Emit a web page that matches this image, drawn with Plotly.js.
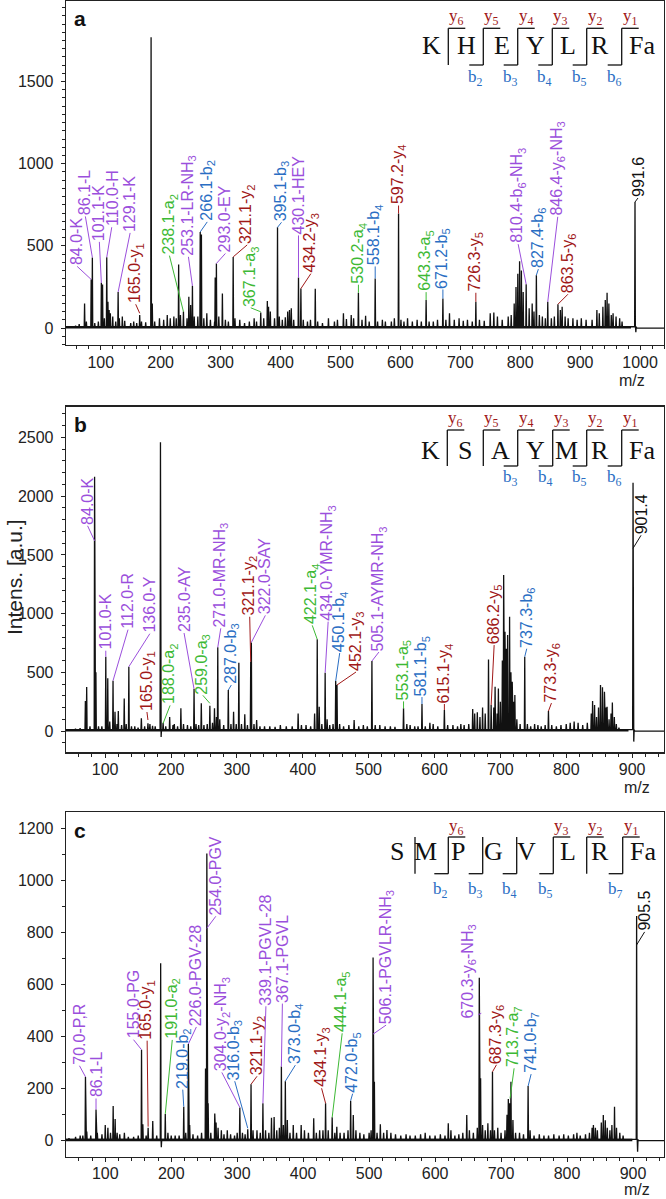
<!DOCTYPE html>
<html><head><meta charset="utf-8">
<script src="https://cdn.plot.ly/plotly-3.0.1.min.js"></script>
<style>html,body{margin:0;padding:0;background:#fff}#chart{width:666px;height:1199px}</style>
</head><body><div id="chart"></div>
<script>
// ---------------- DATA ----------------
// Panel a: KHEYLRFa  (peaks: [m/z, intensity])
const peaksA = [[58,15],[64,25],[73,150],[76,40],[84,296],[86,430],[90,30],[96,40],[101,275],[103,265],[106,60],[110,431],[112,160],[114,110],[116,90],[120,70],[125,40],[129,220],[131,60],[136,70],[140,45],[150,30],[155,40],[160,30],[165,80],[168,40],[175,35],[184,1770],[186,150],[190,40],[198,60],[205,50],[211,80],[216,60],[222,70],[226,60],[230,387],[233,80],[238,100],[244,60],[247,190],[250,140],[253,257],[256,70],[262,70],[266,585],[268,570],[272,60],[277,90],[283,50],[290,40],[291,308],[293,393],[297,70],[303,210],[308,50],[313,40],[321,433],[324,60],[332,50],[340,30],[348,40],[356,60],[360,40],[367,95],[372,60],[378,165],[380,130],[383,100],[390,60],[395,613],[398,70],[403,50],[408,65],[412,100],[415,110],[418,120],[422,50],[430,308],[434,240],[438,50],[445,40],[450,50],[458,239],[462,40],[470,30],[480,60],[490,40],[495,50],[505,90],[510,55],[518,80],[522,60],[530,215],[536,50],[542,75],[548,40],[558,302],[562,40],[570,50],[575,40],[585,40],[590,60],[597,697],[601,50],[606,40],[612,60],[620,40],[628,50],[635,40],[643,170],[648,40],[655,40],[662,50],[671,180],[676,50],[682,90],[690,50],[698,60],[705,45],[712,50],[720,40],[726,160],[732,50],[740,45],[750,90],[756,95],[762,70],[770,50],[780,70],[785,80],[790,150],[793,250],[796,330],[799,407],[802,350],[805,220],[810,267],[815,120],[820,150],[823,100],[827,322],[832,80],[837,70],[842,60],[846,160],[852,60],[857,70],[863,145],[867,110],[870,130],[875,70],[880,60],[888,60],[895,50],[902,60],[910,50],[920,50],[928,110],[932,90],[938,130],[942,170],[945,215],[948,150],[952,80],[955,90],[960,70],[966,60],[970,40],[991.6,767],[993,-25]];
// labels: [m/z, intensity at leader end, text, ion type]
const labelsA = [[84,296,"84.0-K","p"],[86,430,"86.1-L","p"],[101,275,"101.1-K","p"],[110,431,"110.0-H","p"],[129,220,"129.1-K","p"],[165,90,"165.0-y<sub>1</sub>","r"],[238,100,"238.1-a<sub>2</sub>","g"],[253,257,"253.1-LR-NH<sub>3</sub>","p"],[266,585,"266.1-b<sub>2</sub>","b"],[293,393,"293.0-EY","p"],[321,433,"321.1-y<sub>2</sub>","r"],[367,99,"367.1-a<sub>3</sub>","g"],[395,613,"395.1-b<sub>3</sub>","b"],[430,308,"430.1-HEY","p"],[434,240,"434.2-y<sub>3</sub>","r"],[530,215,"530.2-a<sub>4</sub>","g"],[558,302,"558.1-b<sub>4</sub>","b"],[597,697,"597.2-y<sub>4</sub>","r"],[643,170,"643.3-a<sub>5</sub>","g"],[671,180,"671.2-b<sub>5</sub>","b"],[726,160,"726.3-y<sub>5</sub>","r"],[810,267,"810.4-b<sub>6</sub>-NH<sub>3</sub>","p"],[827,322,"827.4-b<sub>6</sub>","b"],[846,160,"846.4-y<sub>6</sub>-NH<sub>3</sub>","p"],[863,145,"863.5-y<sub>6</sub>","r"],[991.6,767,"991.6","k"]];
const seqResA = ["K","H","E","Y","L","R","Fa"];
const seqYA = ["y6","y5","y4","y3","y2","y1"];
const seqBA = ["","b2","b3","b4","b5","b6"];

// Panel b: KSAYMRFa
const peaksB = [[55,20],[62,25],[70,256],[72,375],[77,40],[84,2166],[86,500],[90,40],[95,40],[101,633],[104,449],[107,80],[112,429],[115,165],[118,60],[120,170],[125,50],[129,278],[132,60],[136,548],[140,40],[145,40],[150,30],[155,108],[160,40],[165,65],[168,60],[172,45],[176,40],[184,2459],[185,-50],[188,70],[192,40],[198,120],[203,50],[205,60],[210,40],[215,193],[219,60],[225,50],[230,40],[235,358],[238,60],[242,50],[246,236],[250,50],[255,60],[259,216],[263,70],[266,193],[269,120],[271,713],[274,100],[280,50],[287,349],[291,60],[295,165],[299,60],[303,582],[307,60],[312,142],[316,50],[321,590],[322,755],[326,60],[330,94],[335,40],[342,40],[350,40],[358,35],[366,50],[375,40],[384,40],[393,150],[398,50],[405,50],[412,40],[418,150],[422,781],[425,207],[429,60],[434,497],[437,100],[441,50],[446,60],[450,426],[452,392],[456,60],[462,40],[470,50],[478,94],[485,40],[492,50],[498,40],[505,596],[510,50],[517,50],[525,40],[533,40],[540,35],[553,193],[558,60],[563,50],[570,40],[575,40],[581,230],[586,40],[593,70],[598,60],[605,40],[615,179],[620,50],[628,50],[635,40],[640,60],[645,50],[652,60],[658,187],[661,150],[665,160],[669,120],[673,200],[677,150],[682,610],[686,221],[690,200],[692,378],[695,150],[697,363],[700,250],[703,600],[705,1329],[707,846],[709,700],[711,818],[714,974],[716,500],[718,420],[720,250],[722,307],[725,100],[730,60],[737,633],[741,60],[746,40],[752,60],[757,50],[762,40],[768,50],[773,170],[778,50],[785,40],[792,50],[800,60],[806,70],[812,80],[818,70],[825,50],[832,70],[838,150],[840,256],[843,221],[846,120],[849,200],[852,392],[855,372],[858,335],[860,200],[862,207],[865,100],[868,150],[870,244],[873,120],[876,60],[880,30],[901.4,2115],[902.5,-90]];
const labelsB = [[84,1620,"84.0-K","p"],[101,633,"101.0-K","p"],[112,429,"112.0-R","p"],[136,548,"136.0-Y","p"],[165,94,"165.0-y<sub>1</sub>","r"],[188,65,"188.0-a<sub>2</sub>","g"],[235,358,"235.0-AY","p"],[259,236,"259.0-a<sub>3</sub>","g"],[271,713,"271.0-MR-NH<sub>3</sub>","p"],[287,349,"287.0-b<sub>3</sub>","b"],[321,590,"321.1-y<sub>2</sub>","r"],[322,755,"322.0-SAY","p"],[422,781,"422.1-a<sub>4</sub>","g"],[434,497,"434.0-YMR-NH<sub>3</sub>","p"],[450,426,"450.1-b<sub>4</sub>","b"],[452,392,"452.1-y<sub>3</sub>","r"],[505,596,"505.1-AYMR-NH<sub>3</sub>","p"],[553,193,"553.1-a<sub>5</sub>","g"],[581,230,"581.1-b<sub>5</sub>","b"],[615,179,"615.1-y<sub>4</sub>","r"],[686,221,"686.2-y<sub>5</sub>","r"],[737,633,"737.3-b<sub>6</sub>","b"],[773,170,"773.3-y<sub>6</sub>","r"],[901.4,1556,"901.4","k"]];
const seqResB = ["K","S","A","Y","M","R","Fa"];
const seqYB = ["y6","y5","y4","y3","y2","y1"];
const seqBB = ["","","b3","b4","b5","b6"];

// Panel c: SMPGVLRFa
const peaksC = [[45,10],[55,15],[62,20],[66,20],[70,246],[72,35],[78,20],[86,120],[88,30],[95,25],[100,60],[104,50],[108,30],[112,133],[115,83],[118,30],[122,25],[129,30],[135,15],[143,15],[150,20],[155,350],[157,63],[162,20],[165,50],[172,76],[178,20],[184,682],[185,-25],[191,103],[195,30],[200,20],[206,20],[212,20],[219,131],[222,30],[226,372],[228,60],[233,25],[240,20],[246,30],[252,278],[254,1105],[256,144],[260,30],[266,105],[268,70],[271,50],[276,40],[280,25],[285,40],[290,25],[296,20],[300,30],[304,128],[308,30],[312,25],[316,44],[321,217],[324,40],[330,40],[335,30],[339,144],[343,40],[348,30],[352,88],[356,91],[360,40],[364,50],[367,285],[370,60],[373,229],[376,80],[380,30],[385,60],[390,30],[397,60],[402,40],[408,30],[416,86],[420,30],[425,40],[430,40],[434,144],[438,40],[444,90],[448,30],[451,54],[456,30],[462,30],[468,40],[472,154],[476,99],[480,40],[486,30],[492,25],[500,30],[503,40],[506,705],[508,227],[512,30],[517,63],[522,30],[527,41],[533,30],[540,25],[548,20],[556,25],[562,20],[570,20],[578,25],[585,30],[592,20],[600,20],[608,25],[615,20],[620,67],[624,40],[630,20],[636,25],[642,30],[648,99],[652,40],[658,30],[664,50],[667,627],[669,240],[672,60],[676,40],[680,67],[684,40],[687,265],[690,40],[695,50],[700,30],[706,40],[709,100],[711,160],[713,144],[715,227],[718,80],[722,30],[728,30],[734,25],[741,210],[744,40],[750,20],[758,25],[765,20],[772,20],[780,25],[788,20],[795,25],[802,20],[810,25],[815,30],[820,20],[828,25],[834,30],[838,50],[840,60],[843,50],[846,40],[852,70],[855,99],[858,79],[861,50],[865,40],[868,60],[872,131],[875,50],[880,30],[885,20],[905.5,864],[907,-42]];
const labelsC = [[70,246,"70.0-P,R","p"],[86,120,"86.1-L","p"],[155,350,"155.0-PG","p"],[165,54,"165.0-y<sub>1</sub>","r"],[191,103,"191.0-a<sub>2</sub>","g"],[219,131,"219.0-b<sub>2</sub>","b"],[226,372,"226.0-PGV-28","p"],[254,817,"254.0-PGV","p"],[304,128,"304.0-y<sub>2</sub>-NH<sub>3</sub>","p"],[316,48,"316.0-b<sub>3</sub>","b"],[321,217,"321.1-y<sub>2</sub>","r"],[339,144,"339.1-PGVL-28","p"],[367,285,"367.1-PGVL","p"],[373,229,"373.0-b<sub>4</sub>","b"],[434,144,"434.1-y<sub>3</sub>","r"],[444,90,"444.1-a<sub>5</sub>","g"],[472,154,"472.0-b<sub>5</sub>","b"],[506,410,"506.1-PGVLR-NH<sub>3</sub>","p"],[670,490,"670.3-y<sub>6</sub>-NH<sub>3</sub>","p"],[687,265,"687.3-y<sub>6</sub>","r"],[713.7,163,"713.7-a<sub>7</sub>","g"],[741,210,"741.0-b<sub>7</sub>","b"],[905.5,753,"905.5","k"]];
const seqResC = ["S","M","P","G","V","L","R","Fa"];
const seqYC = ["","y6","","","y3","y2","y1"];
const seqBC = ["","b2","b3","b4","b5","","b7"];

// ---------------- LAYOUT / STYLE ----------------
const W = 666, H = 1199, M = {l: 66, r: 2, t: 0, b: 0};
const PW = W - M.l - M.r, PH = H - M.t - M.b;
const px = v => (v - M.l) / PW;
const py = v => 1 - (v - M.t) / PH;
const FONT = "Liberation Sans, Arial, Helvetica, sans-serif";
const SERIF = "Liberation Serif, Times New Roman, serif";
const ionColor = {p: '#9b4fdc', g: '#3db935', b: '#2a6ec3', r: '#a01818', k: '#111111'};

// label leader offsets (pixels, from leader end to text start)
const offA = [[-14,-13],[-7,-41],[-2,-41],[5,-30],[12,-59],[-4,-9],[-14,-56],[-4,-29],[7,-10],[9,-10],[14,-12],[-10,-4],[4,-5],[0,-42],[10,-15],[0,-8],[0,-12],[0,-8],[0,-8],[0,-9],[0,-9],[-8,-40],[2,-6],[10,-85],[10,-10],[3,-4]];
const offB = [[-7,-15],[0,-6],[15,-51],[21,-33],[-1,-8],[7,-18],[-10,-56],[-7,-8],[3,-19],[3,-5],[-1,-45],[14,-27],[-5,-14],[3,-51],[4,-28],[19,-13],[7,-9],[0,-7],[0,-7],[0,-6],[3,-60],[2,-8],[3,-8],[8,-13]];
const offC = [[-6,-11],[0,-11],[-8,-10],[-1,-86],[7,-74],[-1,-17],[8,-17],[9,-12],[-18,-35],[-13,-47],[6,-8],[3,-97],[1,-63],[10,-16],[-4,-15],[10,-84],[2,-7],[13,-9],[-13,6],[4,-7],[4,-30],[3,-12],[8,-13]];

const panels = [
  {peaks: peaksA, labels: labelsA, off: offA, xr: [42, 1040], yr: [-103, 1990], ydt: 500, ymin: 50,
   dom: [1 - 345/PH, 1 - 1/PH], base: 8, mzY: 381, mzX: 632, letter: 'a', letterY: 18.5},
  {peaks: peaksB, labels: labelsB, off: offB, xr: [40.6, 948.4], yr: [-181, 2762], ydt: 500, ymin: 100,
   dom: [1 - 752.3/PH, 1 - 406.7/PH], base: 12, mzY: 787.5, mzX: 637, letter: 'b', letterY: 425},
  {peaks: peaksC, labels: labelsC, off: offC, xr: [40.5, 947], yr: [-61.5, 1263], ydt: 200, ymin: 100,
   dom: [1 - 1156.7/PH, 1 - 812.3/PH], base: 5, mzY: 1189, mzX: 637, letter: 'c', letterY: 830}
];

const traces = [], annotations = [], shapes = [];
const layout = {
  width: W, height: H, margin: M, paper_bgcolor: '#fff', plot_bgcolor: '#fff',
  showlegend: false, font: {family: FONT, size: 16, color: '#222'}
};

panels.forEach((P, i) => {
  const n = i === 0 ? '' : String(i + 1);
  const xa = 'x' + n, ya = 'y' + n;
  // spectrum as stick line
  const s = P.peaks.slice().sort((a, b) => a[0] - b[0]);
  const xs = [P.xr[0]], ys = [P.base];
  s.forEach(([m, v]) => { xs.push(m - 0.6, m, m + 0.6); ys.push(P.base, v, P.base); });
  const last = s[s.length - 1][0];
  xs.push(last + 1.5, P.xr[1]); ys.push(0, 0);
  traces.push({x: [P.xr[0], last - 8], y: [P.base * 0.6, P.base * 0.6], xaxis: xa, yaxis: ya, mode: 'lines',
    line: {color: '#111', width: 2.6}, hoverinfo: 'skip'});
  traces.push({x: xs, y: ys, xaxis: xa, yaxis: ya, mode: 'lines', line: {color: '#111', width: 1.3}, hoverinfo: 'skip'});

  const common = {showline: true, mirror: true, linecolor: '#222', linewidth: 1.3, showgrid: false, zeroline: false,
    ticks: 'outside', ticklen: 4, tickwidth: 1, tickcolor: '#222', tickfont: {family: FONT, size: 16, color: '#222'}};
  layout['xaxis' + n] = Object.assign({}, common, {anchor: ya, domain: [0, 1], range: P.xr, dtick: 100, tick0: 0,
    ticklabelstandoff: -2,
    minor: {dtick: 20, ticks: 'outside', ticklen: 3, tickcolor: '#222', showgrid: false}});
  layout['yaxis' + n] = Object.assign({}, common, {anchor: xa, domain: P.dom, range: P.yr, dtick: P.ydt, tick0: 0,
    ticklabelstandoff: 4, minor: {dtick: P.ymin, ticks: 'outside', ticklen: 3, tickcolor: '#222', showgrid: false}});

  // peak labels
  P.labels.forEach((L, k) => {
    annotations.push({x: L[0], y: L[1], xref: xa, yref: ya, text: L[2], textangle: -90, showarrow: true,
      arrowhead: 0, arrowwidth: 1, arrowcolor: ionColor[L[3]], ax: P.off[k][0], ay: P.off[k][1],
      xanchor: 'left', yanchor: 'middle', borderpad: 0, font: {family: FONT, size: 16, color: ionColor[L[3]]}});
  });
  // panel letter and m/z
  annotations.push({x: px(80), y: py(P.letterY), xref: 'paper', yref: 'paper', text: '<b>' + P.letter + '</b>',
    showarrow: false, xanchor: 'center', yanchor: 'middle', font: {family: FONT, size: 21, color: '#111'}});
  annotations.push({x: px(P.mzX), y: py(P.mzY), xref: 'paper', yref: 'paper', text: 'm/z',
    showarrow: false, xanchor: 'center', yanchor: 'middle', font: {family: FONT, size: 16, color: '#222'}});
});

annotations.push({x: px(14), y: py(577), xref: 'paper', yref: 'paper', text: 'Intens. [a.u.]', textangle: -90,
  showarrow: false, xanchor: 'center', yanchor: 'middle', font: {family: FONT, size: 21, color: '#222'}});

// ---------------- sequence diagrams ----------------
const seqs = [
  {res: seqResA, yl: seqYA, bl: seqBA, resX: [431, 466.7, 501.7, 535, 568.3, 600, 641.7], midY: 45.5,
   sepX: [448.3, 483.3, 517.7, 552.3, 586.7, 621.7], top: 28.3, bot: 65, yLab: 17, bLab: 78},
  {res: seqResB, yl: seqYB, bl: seqBB, resX: [430, 465, 500, 535, 566.7, 600, 641.7], midY: 450.5,
   sepX: [447.3, 483.3, 517.7, 552.7, 586.7, 621.7], top: 430, bot: 466, yLab: 418.7, bLab: 478},
  {res: seqResC, yl: seqYC, bl: seqBC, resX: [396.7, 425, 458.3, 493.3, 526.7, 568.3, 600, 643.3], midY: 851.5,
   sepX: [415, 448.3, 482.7, 516.7, 553.3, 586.7, 622.7], top: 837, bot: 873.7, yLab: 827.3, bLab: 890}
];
const ln = (x0, y0, x1, y1) => shapes.push({type: 'line', xref: 'paper', yref: 'paper',
  x0: px(x0), y0: py(y0), x1: px(x1), y1: py(y1), line: {color: '#111', width: 1.3}});
const sub = t => t ? t[0] + '<sub>' + t.slice(1) + '</sub>' : '';
seqs.forEach(S => {
  S.res.forEach((r, k) => annotations.push({x: px(S.resX[k]), y: py(S.midY), xref: 'paper', yref: 'paper', text: r,
    showarrow: false, xanchor: 'center', yanchor: 'middle', font: {family: SERIF, size: 26, color: '#111'}}));
  S.sepX.forEach((sx, k) => {
    ln(sx, S.top, sx, S.bot);
    if (S.yl[k]) {
      ln(sx, S.top, sx + 17, S.top);
      annotations.push({x: px(sx + 8.5), y: py(S.yLab), xref: 'paper', yref: 'paper', text: sub(S.yl[k]),
        showarrow: false, xanchor: 'center', yanchor: 'middle', font: {family: SERIF, size: 17, color: ionColor.r}});
    }
    if (S.bl[k]) {
      ln(sx - 14, S.bot, sx, S.bot);
      annotations.push({x: px(sx - 7.5), y: py(S.bLab), xref: 'paper', yref: 'paper', text: sub(S.bl[k]),
        showarrow: false, xanchor: 'center', yanchor: 'middle', font: {family: SERIF, size: 17, color: ionColor.b}});
    }
  });
});

layout.annotations = annotations;
layout.shapes = shapes;
Plotly.newPlot('chart', traces, layout, {staticPlot: true, displayModeBar: false});
</script></body></html>
